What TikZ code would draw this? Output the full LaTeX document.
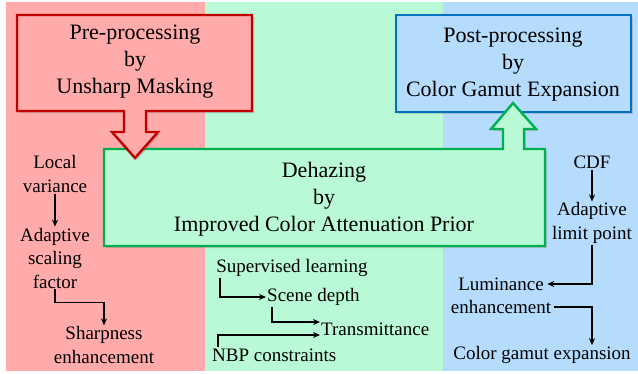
\documentclass[tikz,border=0pt]{standalone}
\usepackage{fontspec}
\setmainfont{Liberation Serif}
\usetikzlibrary{shadows,arrows.meta}
\definecolor{redbg}{HTML}{FFABAB}
\definecolor{greenbg}{HTML}{B9F9D6}
\definecolor{bluebg}{HTML}{B5DCFD}
\definecolor{redln}{HTML}{C00000}
\definecolor{greenln}{HTML}{00B050}
\definecolor{blueln}{HTML}{0070C0}
\tikzset{
  bigbox/.style={line width=2.4pt, line join=miter, drop shadow={opacity=0.35, shadow xshift=2pt, shadow yshift=-2pt}},
  bigtxt/.style={font=\fontsize{22}{27}\selectfont, align=center, inner sep=1pt},
  smalltxt/.style={font=\fontsize{19}{23.5}\selectfont, align=center, inner sep=1pt},
  flow/.style={draw=black, line width=1.2pt, -{Stealth[length=7pt,width=6pt]}},
}
\begin{document}
\begin{tikzpicture}[x=1pt,y=-1pt]
\useasboundingbox (0,0) rectangle (638,373);
% backgrounds
\fill[redbg] (6,2) rectangle (205,371);
\fill[greenbg] (205,2) rectangle (443,371);
\fill[bluebg] (443,2) rectangle (638,371);
% blue box
\draw[bigbox, draw=blueln, fill=bluebg] (396,15) rectangle (631,112);
% green shape
\draw[bigbox, draw=greenln, fill=greenbg]
  (104,149) -- (503,149) -- (503,129) -- (491,129) -- (513,103) -- (536,129)
  -- (524,129) -- (524,149) -- (545,149) -- (545,246) -- (104,246) -- cycle;
% red shape
\draw[bigbox, draw=redln, fill=redbg]
  (17,15) -- (252,15) -- (252,111) -- (146,111) -- (146,132) -- (158,132)
  -- (135,158) -- (112,132) -- (124,132) -- (124,111) -- (17,111) -- cycle;
% box texts
\node[bigtxt] (pre) at (135,62) {Pre-processing\\by\\Unsharp Masking};
\node[bigtxt] (post) at (513,65) {Post-processing\\by\\Color Gamut Expansion};
\node[bigtxt] (dehaze) at (324,199) {Dehazing\\by\\Improved Color Attenuation Prior};
% left column
\node[smalltxt] (lv) at (55,174) {Local\\variance};
\node[smalltxt] (asf) at (55,258) {Adaptive\\scaling\\factor};
\node[smalltxt] (sh) at (104,345) {Sharpness\\enhancement};
\draw[flow] (lv.south) -- (asf.north);
\draw[flow] (asf.south) -- ++(0,13) -| (sh.north);
% middle column
\node[smalltxt] (sl) at (292,268) {Supervised learning};
\node[smalltxt, anchor=west] (sd) at (266,297) {Scene depth};
\node[smalltxt, anchor=west] (tr) at (320,329) {Transmittance};
\node[smalltxt, anchor=west] (nbp) at (211,355) {NBP constraints};
\draw[flow] ([xshift=5pt]sl.south west) |- (sd.west);
\draw[flow] ([xshift=6pt]sd.south west) |- ([yshift=7pt]tr.west);
\draw[flow] ([xshift=7pt]nbp.north west) |- ([yshift=-6pt]tr.west);
% right column
\node[smalltxt] (cdf) at (592,162) {CDF};
\node[smalltxt] (alp) at (592,223) {Adaptive\\limit point};
\node[smalltxt] (le) at (501,296) {Luminance\\enhancement};
\node[smalltxt] (cge) at (542,355) {Color gamut expansion};
\draw[flow] (cdf.south) -- (alp.north);
\draw[flow] (alp.south) |- ([xshift=-5pt,yshift=12pt]le.east);
\draw[flow] ([xshift=2pt,yshift=-11pt]le.east) -| ([xshift=50pt]cge.north);
\end{tikzpicture}
\end{document}
